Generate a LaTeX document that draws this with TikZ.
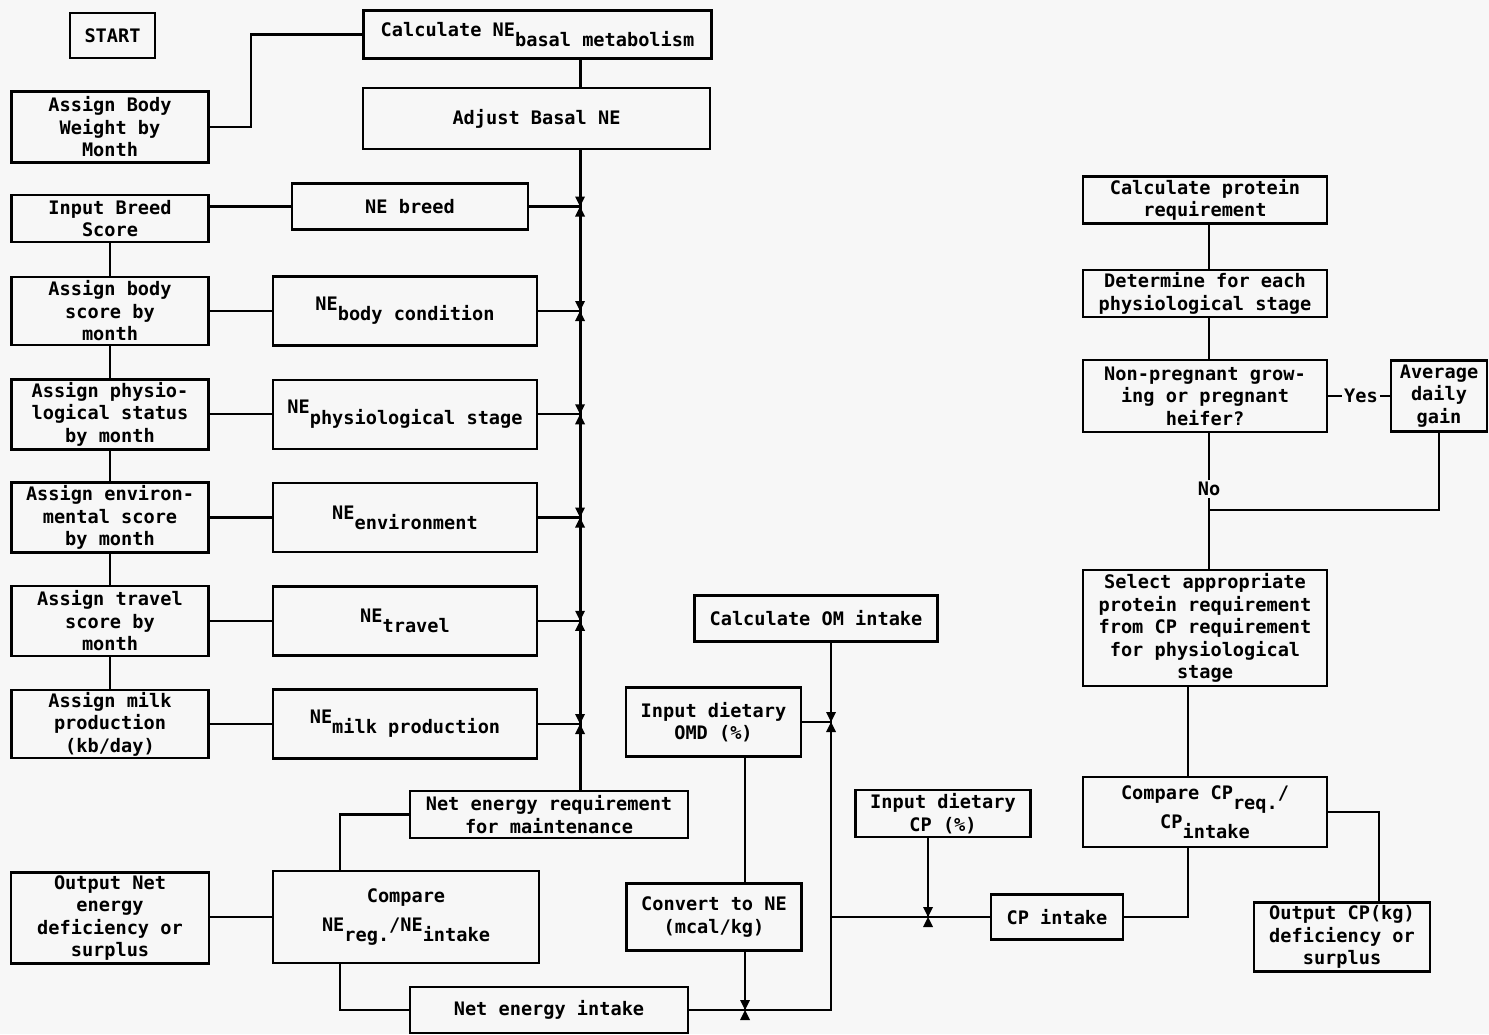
\documentclass[tikz,border=0pt]{standalone}
\usepackage{fontspec}
\setmainfont{DejaVu Sans Mono}
\usetikzlibrary{positioning}
\newcommand\lowr[1]{\raisebox{-0.55em}{#1}}

\begin{document}
\begin{tikzpicture}[x=1pt, y=-1pt, node distance=103.25pt, line width=2.2pt,
    every node/.style={font=\bfseries\fontsize{18.6}{22.5}\selectfont},
    box/.style={draw, rectangle, line width=2.5pt, align=center, inner sep=2pt},
    lbox/.style={box, minimum width=197, minimum height=70},
    nebox/.style={box, minimum width=264, minimum height=69},
    junc/.pic={\fill (-5,-10) -- (5,-10) -- (-5,10) -- (5,10) -- cycle;}]
    \useasboundingbox (0,0) rectangle (1489,1034);
    \fill[gray!6] (0,0) rectangle (1489,1034);
    % Nodes
    \node (start) [box, minimum width=85, minimum height=45] at (112.5,35.5) {START};
    \node (abw) [lbox, minimum height=71] at (110,127) {Assign Body\\Weight by\\Month};
    \node (brd) [lbox, minimum height=47] at (110,218.5) {Input Breed\\Score};
    \node (bsc) [lbox, minimum height=68] at (110,311) {Assign body\\score by\\month};
    \node (phy) [lbox, below of=bsc] {Assign physio-\\logical status\\by month};
    \node (env) [lbox, below of=phy] {Assign environ-\\mental score\\by month};
    \node (trv) [lbox, below of=env] {Assign travel\\score by\\month};
    \node (mlk) [lbox, minimum height=68, below of=trv] {Assign milk\\production\\(kb/day)};
    \node (outne) [lbox, minimum width=198, minimum height=91] at (110,918) {Output Net\\energy\\deficiency or\\surplus};

    \node (calcne) [box, minimum width=348, minimum height=48] at (537.5,34.5) {Calculate NE\lowr{basal metabolism}};
    \node (adjne) [box, minimum width=347, minimum height=61] at (536.5,118.5) {Adjust Basal NE};
    \node (nebrd) [box, minimum width=236, minimum height=46] at (410,206.5) {NE breed};
    \node (nebc) [nebox] at (405,311) {NE\lowr{body condition}};
    \node (neph) [nebox, below of=nebc] {NE\lowr{physiological stage}};
    \node (neenv) [nebox, below of=neph] {NE\lowr{environment}};
    \node (netr) [nebox, below of=neenv] {NE\lowr{travel}};
    \node (nemk) [nebox, below of=netr] {NE\lowr{milk production}};
    \node (nereq) [box, minimum width=278, minimum height=47] at (549,814.5) {Net energy requirement\\for maintenance};
    \node (cmpne) [box, minimum width=266, minimum height=92] at (406,917) {Compare\\[6pt]NE\lowr{reg.}/NE\lowr{intake}};
    \node (neint) [box, minimum width=278, minimum height=46] at (549,1010) {Net energy intake};

    \node (omint) [box, minimum width=243, minimum height=46] at (816,618.5) {Calculate OM intake};
    \node (omd) [box, minimum width=175, minimum height=69] at (713.5,722) {Input dietary\\OMD (\%)};
    \node (conv) [box, minimum width=175, minimum height=67] at (714,917) {Convert to NE\\(mcal/kg)};
    \node (cpdiet) [box, minimum width=175, minimum height=47] at (943,813.5) {Input dietary\\CP (\%)};
    \node (cpint) [box, minimum width=132, minimum height=45] at (1057,917) {CP intake};

    \node (calcp) [box, minimum width=244, minimum height=47] at (1205,200) {Calculate protein\\requirement};
    \node (detm) [box, minimum width=244, minimum height=47, below of=calcp, node distance=93.5pt] {Determine for each\\physiological stage};
    \node (preg) [box, minimum width=244, minimum height=72, below of=detm, node distance=102.5pt] {Non-pregnant grow-\\ing or pregnant\\heifer?};
    \node (adg) [box, minimum width=96, minimum height=71, right of=preg, node distance=234pt] {Average\\daily\\gain};
    \node (sel) [box, minimum width=244, minimum height=116] at (1205,628) {Select appropriate\\protein requirement\\from CP requirement\\for physiological\\stage};
    \node (cmpcp) [box, minimum width=244, minimum height=70, below of=sel, node distance=184pt] {Compare CP\lowr{req.}/\\CP\lowr{intake}};
    \node (outcp) [box, minimum width=176, minimum height=69] at (1342,937) {Output CP(kg)\\deficiency or\\surplus};

    \node (yes) [inner sep=1pt] at (1361,396) {Yes};
    \node (no) [inner sep=1pt] at (1209,489) {No};

    \coordinate (bus) at (580,0);
    \coordinate (lnk) at (340,0);
    \coordinate (omx) at (831,0);
    \coordinate (cvx) at (745,0);
    \coordinate (cpx) at (928,0);
    \coordinate (pcol) at (1209,0);
    \coordinate (sx) at (1188,0);
    \coordinate (ox) at (1379,0);
    \coordinate (nojoin) at (1209,510);

    % Lines
    \draw (abw.east) -- ++(41,0) |- (calcne.west);
    \draw (brd.south) -- (bsc.north);
    \draw (bsc.south) -- (phy.north);
    \draw (phy.south) -- (env.north);
    \draw (env.south) -- (trv.north);
    \draw (trv.south) -- (mlk.north);
    \draw (brd.east |- nebrd.west) -- (nebrd.west);
    \draw (bsc) -- (nebc);
    \draw (phy) -- (neph);
    \draw (env) -- (neenv);
    \draw (trv) -- (netr);
    \draw (mlk) -- (nemk);

    \draw[line width=3pt] (calcne.south -| bus) -- (adjne.north -| bus);
    \draw[line width=3pt] (adjne.south -| bus) -- (nereq.north -| bus);
    \draw (nebrd.east) -- (nebrd.east -| bus);
    \pic at (nebrd.east -| bus) {junc};
    \draw (nebc.east) -- (nebc.east -| bus);
    \pic at (nebc.east -| bus) {junc};
    \draw (neph.east) -- (neph.east -| bus);
    \pic at (neph.east -| bus) {junc};
    \draw (neenv.east) -- (neenv.east -| bus);
    \pic at (neenv.east -| bus) {junc};
    \draw (netr.east) -- (netr.east -| bus);
    \pic at (netr.east -| bus) {junc};
    \draw (nemk.east) -- (nemk.east -| bus);
    \pic at (nemk.east -| bus) {junc};

    \draw (nereq.west) -| (cmpne.north -| lnk);
    \draw (cmpne.south -| lnk) |- (neint.west);
    \draw (cmpne.west) -- (outne.east |- cmpne.west);

    \draw (omint.south -| omx) -- (neint.east -| omx) -- (neint.east);
    \draw (omd.east) -- (omd.east -| omx);
    \pic at (omd.east -| omx) {junc};
    \draw (omd.south -| cvx) -- (conv.north -| cvx);
    \draw (conv.south -| cvx) -- (neint.east -| cvx);
    \pic at (neint.east -| cvx) {junc};
    \draw (cpint.west -| omx) -- (cpint.west);
    \draw (cpdiet.south -| cpx) -- (cpint.west -| cpx);
    \pic at (cpint.west -| cpx) {junc};
    \draw (cpint.east) -| (cmpcp.south -| sx);

    \draw (calcp.south -| pcol) -- (detm.north -| pcol);
    \draw (detm.south -| pcol) -- (preg.north -| pcol);
    \draw (preg.south -| pcol) -- (no.north);
    \draw (no.south) -- (sel.north -| pcol);
    \draw (adg.south) |- (nojoin);
    \draw (preg.east) -- (yes.west);
    \draw (yes.east) -- (adg.west);
    \draw (sel.south -| sx) -- (cmpcp.north -| sx);
    \draw (cmpcp.east) -| (outcp.north -| ox);
  \end{tikzpicture}
\end{document}
